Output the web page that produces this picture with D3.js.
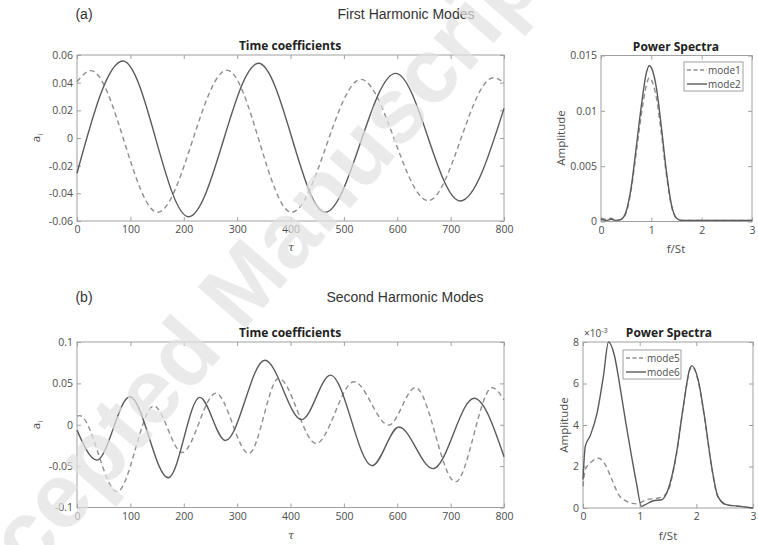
<!DOCTYPE html>
<html>
<head>
<meta charset="utf-8">
<script src="https://cdnjs.cloudflare.com/ajax/libs/d3/7.8.5/d3.min.js"></script>
<style>
    body { margin: 0; background: #fff; }
    svg text { font-family: "Open Sans", "DejaVu Sans", sans-serif; }
</style>
</head>
<body>
<svg id="fig" width="758" height="545"></svg>
<script>
"use strict";

// ---- ticks ----
const tauTicks = [0, 100, 200, 300, 400, 500, 600, 700, 800];
const tauLabels = ["0", "100", "200", "300", "400", "500", "600", "700", "800"];
const firstTicks = [-0.06, -0.04, -0.02, 0, 0.02, 0.04, 0.06];
const firstLabels = ["-0.06", "-0.04", "-0.02", "0", "0.02", "0.04", "0.06"];
const secondTicks = [-0.1, -0.05, 0, 0.05, 0.1];
const secondLabels = ["-0.1", "-0.05", "0", "0.05", "0.1"];
const freqTicks = [0, 1, 2, 3];
const freqLabels = ["0", "1", "2", "3"];
const specATicks = [0, 0.005, 0.01, 0.015];
const specALabels = ["0", "0.005", "0.01", "0.015"];
const specBTicks = [0, 2, 4, 6, 8];
const specBLabels = ["0", "2", "4", "6", "8"];

// ---- time coefficients (extrema) ----
const mode1Tau = [0, 26, 151, 281, 402, 532, 658, 780, 800];
const mode1Val = [0.0407, 0.0487, -0.0537, 0.049, -0.0537, 0.0424, -0.0453, 0.0436, 0.040];
const mode2Tau = [0, 86, 209, 340, 465, 597, 718, 800];
const mode2Val = [-0.0255, 0.0557, -0.0569, 0.054, -0.0537, 0.0467, -0.0455, 0.0214];

const mode5Tau = [0, 5, 75, 144, 197, 260, 322, 378, 448, 519, 584, 634, 709, 778, 800];
const mode5Val = [0.0105, 0.011, -0.081, 0.0226, -0.0335, 0.038, -0.0347, 0.056, -0.0226, 0.052, -0.0004, 0.0448, -0.069, 0.0448, 0.030];
const mode6Tau = [0, 37, 99, 171, 230, 278, 352, 421, 475, 553, 603, 667, 744, 800];
const mode6Val = [-0.0065, -0.0427, 0.0339, -0.0641, 0.0331, -0.019, 0.078, 0.0062, 0.060, -0.0495, -0.0028, -0.053, 0.032, -0.0387];

// ---- power spectra ----
const specAFreq = [0, 0.1, 0.2, 0.3, 0.4, 0.5, 0.6, 0.7, 0.8, 0.9, 0.96, 1.0, 1.1, 1.2, 1.3, 1.4, 1.5, 1.6, 2.0, 2.5, 3.0];
const mode1Spec = [0.0003, 0.0002, 0.0003, 0.0001, 0.0002, 0.0008, 0.0029, 0.0062, 0.0096, 0.0123, 0.0130, 0.0128, 0.0112, 0.0079, 0.0042, 0.0014, 0.0003, 0.0001, 0.0001, 0.0001, 0.0001];
const mode2Spec = [0.0002, 0.0001, 0.0002, 0.0001, 0.0002, 0.0009, 0.0031, 0.0067, 0.0104, 0.0134, 0.0141, 0.0139, 0.0121, 0.0085, 0.0045, 0.0015, 0.0003, 0.0001, 0.0001, 0.0001, 0.0001];

// mode5 / mode6 in units of 1e-3
const mode5Freq = [0, 0.04, 0.16, 0.28, 0.39, 0.51, 0.63, 0.77, 0.95, 1.12, 1.33, 1.48, 1.65, 1.77, 1.89, 1.92, 2.03, 2.15, 2.27, 2.38, 2.53, 2.77, 3.0];
const mode5Spec = [1.04, 1.85, 2.25, 2.4, 2.1, 1.37, 0.64, 0.32, 0.2, 0.4, 0.48, 0.72, 2.6, 4.85, 6.7, 6.82, 6.15, 4.25, 1.95, 0.55, 0.15, 0.08, 0.0];
const mode6Freq = [0, 0.04, 0.13, 0.25, 0.36, 0.45, 0.55, 0.65, 0.75, 0.85, 0.95, 1.03, 1.1, 1.24, 1.39, 1.5, 1.65, 1.77, 1.89, 1.92, 2.03, 2.15, 2.27, 2.38, 2.53, 2.77, 3.0];
const mode6Spec = [1.37, 2.97, 3.5, 4.6, 6.35, 8.0, 7.4, 5.9, 4.2, 2.6, 1.1, 0.08, 0.16, 0.35, 0.4, 0.88, 2.65, 4.9, 6.75, 6.86, 6.2, 4.3, 2.0, 0.56, 0.16, 0.08, 0.0];

const axisColor = "#a0a0a0";
const textColor = "#4d4d4d";
const solidColor = "#5a5a5a";
const dashColor = "#8e8e8e";

const svg = d3.select("#fig");

function makePanel(box, xDomain, yDomain) {
    return {
        box: box,
        x: d3.scaleLinear().domain(xDomain).range([box.x0, box.x1]),
        y: d3.scaleLinear().domain(yDomain).range([box.y1, box.y0])
    };
}

function drawFrame(p, xTicks, xLabels, yTicks, yLabels) {
    let b = p.box;
    let g = svg.append("g");
    g.append("g").attr("transform", `translate(0,${b.y1})`)
        .call(d3.axisBottom(p.x).tickValues(xTicks).tickFormat((d, i) => xLabels[i])
            .tickSizeInner(-4).tickSizeOuter(0).tickPadding(5));
    g.append("g").attr("transform", `translate(0,${b.y0})`)
        .call(d3.axisTop(p.x).tickValues(xTicks).tickFormat("")
            .tickSizeInner(-4).tickSizeOuter(0));
    g.append("g").attr("transform", `translate(${b.x0},0)`)
        .call(d3.axisLeft(p.y).tickValues(yTicks).tickFormat((d, i) => yLabels[i])
            .tickSizeInner(-4).tickSizeOuter(0).tickPadding(4));
    g.append("g").attr("transform", `translate(${b.x1},0)`)
        .call(d3.axisRight(p.y).tickValues(yTicks).tickFormat("")
            .tickSizeInner(-4).tickSizeOuter(0));
    g.selectAll(".domain").remove();
    g.selectAll(".tick line").attr("stroke", axisColor);
    g.selectAll(".tick text").attr("fill", textColor).style("font-size", "10.5px");
    g.append("rect")
        .attr("x", b.x0).attr("y", b.y0)
        .attr("width", b.x1 - b.x0).attr("height", b.y1 - b.y0)
        .attr("fill", "none").attr("stroke", axisColor).attr("stroke-width", 1);
}

function drawSeries(p, xs, ys, dashed) {
    let line = d3.line()
        .x(d => p.x(d[0]))
        .y(d => p.y(d[1]))
        .curve(d3.curveMonotoneX);
    svg.append("path")
        .datum(d3.zip(xs, ys))
        .attr("fill", "none")
        .attr("stroke", dashed ? dashColor : solidColor)
        .attr("stroke-width", 1.4)
        .attr("stroke-dasharray", dashed ? "5,3.5" : null)
        .attr("d", line);
}

function addText(x, y, str, opts) {
    opts = opts || {};
    let t = svg.append("text")
        .attr("x", x).attr("y", y)
        .attr("text-anchor", opts.anchor || "middle")
        .attr("dominant-baseline", "central")
        .attr("fill", opts.color || textColor)
        .style("font-size", (opts.size || 11) + "px")
        .style("font-weight", opts.bold ? "bold" : null)
        .text(str);
    if (opts.family) t.style("font-family", opts.family);
    if (opts.rotate) t.attr("transform", `rotate(${opts.rotate},${x},${y})`);
    return t;
}

function drawLegend(x, y, w, h, names) {
    let g = svg.append("g");
    g.append("rect").attr("x", x).attr("y", y).attr("width", w).attr("height", h)
        .attr("fill", "#fff").attr("stroke", axisColor);
    names.forEach((n, i) => {
        let ly = y + 8 + i * 14;
        g.append("line").attr("x1", x + 3).attr("x2", x + 23).attr("y1", ly).attr("y2", ly)
            .attr("stroke", i === 0 ? dashColor : solidColor).attr("stroke-width", 1.4)
            .attr("stroke-dasharray", i === 0 ? "4,2.5" : null);
        g.append("text").attr("x", x + 24).attr("y", ly).attr("dominant-baseline", "central")
            .attr("fill", textColor).style("font-size", "10px").text(n);
    });
}

function yLabelAi(x, y) {
    let t = svg.append("text")
        .attr("transform", `translate(${x},${y}) rotate(-90)`)
        .attr("text-anchor", "middle")
        .attr("fill", textColor)
        .style("font-size", "11.5px");
    t.append("tspan").text("a");
    t.append("tspan").attr("dy", 3).style("font-size", "8px").text("i");
}

// ---- headers ----
const headFont = '"Liberation Sans", Arial, sans-serif';
addText(84, 14, "(a)", {size: 14, color: "#333", family: headFont});
addText(406, 14, "First Harmonic Modes", {size: 14, color: "#333", family: headFont});
addText(84, 297, "(b)", {size: 14, color: "#333", family: headFont});
addText(405, 297, "Second Harmonic Modes", {size: 14, color: "#333", family: headFont});

// ---- (a) time coefficients ----
let pA = makePanel({x0: 77, x1: 504, y0: 55, y1: 221}, [0, 800], [-0.06, 0.06]);
drawFrame(pA, tauTicks, tauLabels, firstTicks, firstLabels);
drawSeries(pA, mode1Tau, mode1Val, true);
drawSeries(pA, mode2Tau, mode2Val, false);
addText(290, 45, "Time coefficients", {size: 12, bold: true, color: "#222"});
yLabelAi(40, 138);
addText(291, 247, "τ", {size: 11, family: '"DejaVu Serif", serif'}).style("font-style", "italic");

// ---- (a) power spectra ----
let sA = makePanel({x0: 601, x1: 752, y0: 55.5, y1: 221.5}, [0, 3], [0, 0.015]);
drawFrame(sA, freqTicks, freqLabels, specATicks, specALabels);
drawSeries(sA, specAFreq, mode1Spec, true);
drawSeries(sA, specAFreq, mode2Spec, false);
drawLegend(684, 62, 59, 29, ["mode1", "mode2"]);
addText(676, 46, "Power Spectra", {size: 12, bold: true, color: "#222"});
addText(560, 138, "Amplitude", {size: 11.5, rotate: -90});
addText(676, 248, "f/St", {size: 11.5});

// ---- (b) time coefficients ----
let pB = makePanel({x0: 77, x1: 504, y0: 342, y1: 507.5}, [0, 800], [-0.1, 0.1]);
drawFrame(pB, tauTicks, tauLabels, secondTicks, secondLabels);
drawSeries(pB, mode5Tau, mode5Val, true);
drawSeries(pB, mode6Tau, mode6Val, false);
addText(290, 332, "Time coefficients", {size: 12, bold: true, color: "#222"});
yLabelAi(40, 425);
addText(291, 535, "τ", {size: 11, family: '"DejaVu Serif", serif'}).style("font-style", "italic");

// ---- (b) power spectra ----
let sB = makePanel({x0: 583, x1: 753, y0: 342, y1: 508}, [0, 3], [0, 8]);
drawFrame(sB, freqTicks, freqLabels, specBTicks, specBLabels);
drawSeries(sB, mode5Freq, mode5Spec, true);
drawSeries(sB, mode6Freq, mode6Spec, false);
drawLegend(623, 350, 58, 29, ["mode5", "mode6"]);
addText(669, 332, "Power Spectra", {size: 12, bold: true, color: "#222"});
addText(563, 425, "Amplitude", {size: 11.5, rotate: -90});
addText(668, 535, "f/St", {size: 11.5});
let ex = svg.append("text").attr("x", 584).attr("y", 337).attr("fill", textColor).style("font-size", "10px");
ex.append("tspan").text("×10");
ex.append("tspan").attr("dy", -4).style("font-size", "7.5px").text("-3");

// ---- watermark ----
svg.append("text")
    .attr("transform", "translate(234,293) rotate(-49)")
    .attr("text-anchor", "middle")
    .attr("dominant-baseline", "central")
    .attr("fill", "#e2e2e2")
    .attr("opacity", 0.7)
    .style("font-family", headFont)
    .style("font-weight", "bold")
    .style("font-size", "92px")
    .text("Accepted Manuscript");
</script>
</body>
</html>
